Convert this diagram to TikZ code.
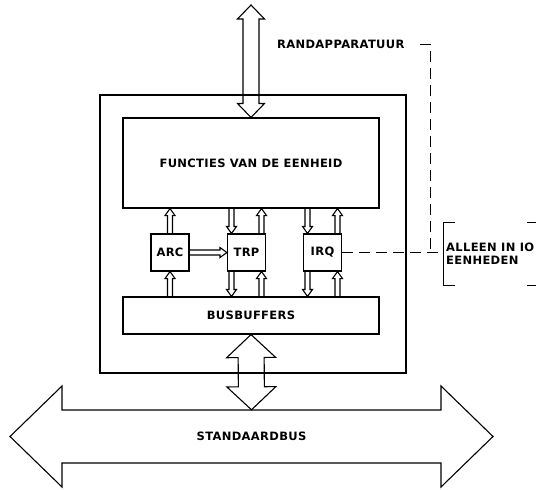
\documentclass[tikz,border=0pt]{standalone}
\usepackage{fontspec}
\setmainfont{DejaVu Sans}[LetterSpace=3]
\usetikzlibrary{calc, positioning}
\tikzset{
  unitbox/.style={draw, line width=1.1pt, minimum width=#1},
  blockbox/.style={draw, line width=1.1pt, align=center, font=\bfseries},
  smallbox/.style={draw, line width=1.1pt, minimum width=38pt, minimum height=37pt, inner sep=0pt, font=\bfseries},
  sigline/.style={draw, line width=1.1pt, line join=miter},
  busline/.style={draw, line width=1.1pt, line join=miter},
  dashline/.style={draw, line width=1pt, dash pattern=on 11pt off 6pt},
  label/.style={font=\bfseries, inner sep=0pt}
}
\newcommand\sigarrow[2]{%
  \coordinate (sa-neck) at ($(#2)!7pt!(#1)$);
  \draw[sigline] ($(#1)!2.5pt!90:(#2)$) -- ($(sa-neck)!2.5pt!90:(#2)$) -- ($(sa-neck)!5pt!90:(#2)$) -- (#2)
    -- ($(sa-neck)!5pt!-90:(#2)$) -- ($(sa-neck)!2.5pt!-90:(#2)$) -- ($(#1)!2.5pt!-90:(#2)$);
}
\newcommand\dblarrow[5]{%
  \coordinate (da-a) at ($(#1)!#5!(#2)$);
  \coordinate (da-b) at ($(#2)!#5!(#1)$);
  \draw[busline] (#1) -- ($(da-a)!#4!-90:(#2)$) -- ($(da-a)!#3!-90:(#2)$) -- ($(da-b)!#3!90:(#1)$)
    -- ($(da-b)!#4!90:(#1)$) -- (#2) -- ($(da-b)!#4!-90:(#1)$) -- ($(da-b)!#3!-90:(#1)$)
    -- ($(da-a)!#3!90:(#2)$) -- ($(da-a)!#4!90:(#2)$) -- cycle;
}

\begin{document}
\fontsize{11.5}{13.5}\selectfont
\begin{tikzpicture}[x=1pt, y=-1pt]
\useasboundingbox (0,0) rectangle (536,490);

\node[unitbox=306pt, minimum height=278pt] (unit) at (253,234) {};
\node[blockbox, minimum width=256pt, minimum height=90pt] (func) at (251,163) {FUNCTIES VAN DE EENHEID};
\node[blockbox, minimum width=256pt, minimum height=37pt] (bufs) at (251,315.5) {BUSBUFFERS};

\node[smallbox] (arc) at (170,252.5) {ARC};
\node[smallbox] (trp) at (246.5,252.5) {TRP};
\node[smallbox] (irq) at (322.5,252.5) {IRQ};

\node[label, minimum width=383pt, minimum height=53pt] (bus) at (251.5,436.5) {STANDAARDBUS};
\coordinate (busL) at (10,436.5);
\coordinate (busR) at (493,436.5);
\coordinate (periph) at (251,5);

\node[label, anchor=west] (rand) at (277,44) {RANDAPPARATUUR};
\node[label, anchor=west, align=left] (alleen) at (446,253.5) {ALLEEN IN IO\\EENHEDEN};

\dblarrow{busL}{busR}{26.5pt}{50.5pt}{52pt}
\dblarrow{periph}{func.north}{8pt}{13.5pt}{14pt}
\dblarrow{bufs.south}{bus.north}{13pt}{24.5pt}{23pt}

\coordinate (arc-t) at (arc.north |- func.south);
\coordinate (arc-b) at (arc.south |- bufs.north);
\coordinate (trp-w) at (arc.east -| trp.west);
\sigarrow{arc.north}{arc-t}
\sigarrow{arc-b}{arc.south}
\sigarrow{arc.east}{trp-w}

\foreach \b in {trp,irq} {
  \coordinate (\b-ti) at ([xshift=-15pt]\b.north);
  \coordinate (\b-to) at ([xshift=15pt]\b.north);
  \coordinate (\b-bi) at ([xshift=-15pt]\b.south);
  \coordinate (\b-bo) at ([xshift=15pt]\b.south);
  \coordinate (\b-fi) at (\b-ti |- func.south);
  \coordinate (\b-fo) at (\b-to |- func.south);
  \coordinate (\b-ui) at (\b-bi |- bufs.north);
  \coordinate (\b-uo) at (\b-bo |- bufs.north);
  \sigarrow{\b-fi}{\b-ti}
  \sigarrow{\b-to}{\b-fo}
  \sigarrow{\b-bi}{\b-ui}
  \sigarrow{\b-uo}{\b-bo}
}

\coordinate (rand-end) at (420,44);
\coordinate (corner) at (430,44);
\coordinate (joint) at (corner |- irq.east);
\coordinate (brk) at (443,252.5);
\draw[dashline] (rand-end) -- (corner) -- (joint);
\draw[dashline] (irq.east) -- (brk);

\draw[line width=1pt] (455,222) -- (443,222) -- (443,285) -- (455,285);
\draw[line width=1pt] (527,222) -- (536,222);
\draw[line width=1pt] (527,285) -- (536,285);
\end{tikzpicture}
\end{document}
